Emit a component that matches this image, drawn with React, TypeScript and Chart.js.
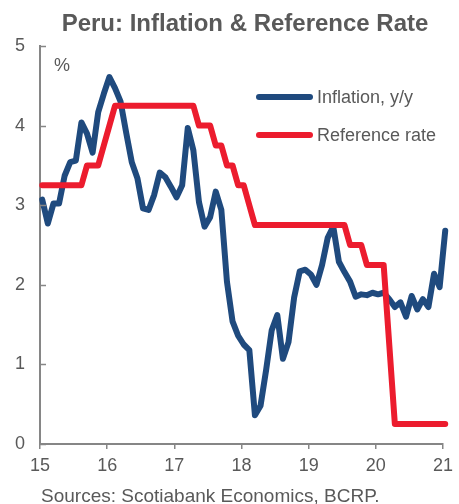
import React, { useEffect, useRef } from 'react';
import { Chart, registerables } from 'chart.js';

Chart.register(...registerables);

const chartTitle = 'Peru: Inflation & Reference Rate';
const sourceNote = 'Sources: Scotiabank Economics, BCRP.';
const unitLabel = '%';
const seriesNames = ['Inflation, y/y', 'Reference rate'];
const xTickLabels = ['15', '16', '17', '18', '19', '20', '21'];
const yTicks = [0, 1, 2, 3, 4, 5];
// observations are plotted a little into each month (months since Jan 2015)
const monthPosition = 0.4;

// Monthly, Jan 2015 .. Jan 2021
const inflation = [
  3.07, 2.77, 3.02, 3.02, 3.37, 3.54, 3.56, 4.04, 3.9, 3.66, 4.17, 4.4,
  4.61, 4.47, 4.3, 3.91, 3.54, 3.34, 2.96, 2.94, 3.13, 3.41, 3.35, 3.23,
  3.1, 3.25, 3.97, 3.69, 3.04, 2.73, 2.85, 3.17, 2.94, 2.04, 1.54, 1.36,
  1.25, 1.18, 0.36, 0.48, 0.93, 1.43, 1.62, 1.07, 1.28, 1.84, 2.17, 2.19,
  2.13, 2.0, 2.25, 2.59, 2.73, 2.29, 2.16, 2.04, 1.85, 1.88, 1.87, 1.9,
  1.88, 1.9, 1.82, 1.72, 1.78, 1.6, 1.86, 1.69, 1.82, 1.72, 2.14, 1.97,
  2.68,
];

const referenceRate = [
  3.25, 3.25, 3.25, 3.25, 3.25, 3.25, 3.25, 3.25, 3.5, 3.5, 3.5, 3.75,
  4.0, 4.25, 4.25, 4.25, 4.25, 4.25, 4.25, 4.25, 4.25, 4.25, 4.25, 4.25,
  4.25, 4.25, 4.25, 4.25, 4.0, 4.0, 4.0, 3.75, 3.75, 3.5, 3.5, 3.25,
  3.25, 3.0, 2.75, 2.75, 2.75, 2.75, 2.75, 2.75, 2.75, 2.75, 2.75, 2.75,
  2.75, 2.75, 2.75, 2.75, 2.75, 2.75, 2.75, 2.5, 2.5, 2.5, 2.25, 2.25,
  2.25, 2.25, 1.25, 0.25, 0.25, 0.25, 0.25, 0.25, 0.25, 0.25, 0.25, 0.25,
  0.25,
];

const BLUE = '#1F4A7E';
const RED = '#EC1C2E';
const TEXT = '#595959';
const AXIS = '#868686';
const FONT = '"Liberation Sans", Arial, sans-serif';

const overlayPlugin = {
  id: 'overlay',
  afterDraw(chart: any) {
    const { ctx, chartArea, scales } = chart;
    const ys = scales.y;
    ctx.save();
    // inward y-axis tick marks
    ctx.strokeStyle = AXIS;
    ctx.lineWidth = 1.5;
    yTicks.forEach((v) => {
      const py = Math.round(ys.getPixelForValue(v)) + 0.5;
      ctx.beginPath();
      ctx.moveTo(chartArea.left, py);
      ctx.lineTo(chartArea.left + 6, py);
      ctx.stroke();
    });

    // title
    ctx.fillStyle = TEXT;
    ctx.textBaseline = 'alphabetic';
    ctx.textAlign = 'center';
    ctx.font = `bold 24px ${FONT}`;
    ctx.fillText(chartTitle, 245, 31);

    // unit label
    ctx.textAlign = 'left';
    ctx.font = `18px ${FONT}`;
    ctx.fillText(unitLabel, 54, 71);

    // legend
    const legendItems = [
      { name: seriesNames[0], color: BLUE, y: 97 },
      { name: seriesNames[1], color: RED, y: 135 },
    ];
    legendItems.forEach((it) => {
      ctx.strokeStyle = it.color;
      ctx.lineWidth = 6;
      ctx.lineCap = 'round';
      ctx.beginPath();
      ctx.moveTo(259, it.y);
      ctx.lineTo(310, it.y);
      ctx.stroke();
      ctx.fillStyle = TEXT;
      ctx.font = `18px ${FONT}`;
      ctx.textBaseline = 'middle';
      ctx.fillText(it.name, 317, it.y + 1);
    });

    // source
    ctx.textBaseline = 'alphabetic';
    ctx.font = `19px ${FONT}`;
    ctx.fillText(sourceNote, 41, 502);
    ctx.restore();
  },
};

export default function App() {
  const canvasRef = useRef<HTMLCanvasElement | null>(null);

  useEffect(() => {
    const canvas = canvasRef.current;
    if (!canvas) return;
    const chart = new Chart(canvas, {
      type: 'line',
      data: {
        datasets: [
          {
            label: seriesNames[1],
            data: referenceRate.map((v, i) => ({ x: i + monthPosition, y: v })),
            borderColor: RED,
            backgroundColor: RED,
            borderWidth: 6,
            pointRadius: 0,
            tension: 0,
            borderCapStyle: 'round',
            borderJoinStyle: 'round',
            clip: 8,
            order: 0,
          },
          {
            label: seriesNames[0],
            data: inflation.map((v, i) => ({ x: i + monthPosition, y: v })),
            borderColor: BLUE,
            backgroundColor: BLUE,
            borderWidth: 6,
            pointRadius: 0,
            tension: 0,
            borderCapStyle: 'round',
            borderJoinStyle: 'round',
            clip: 8,
            order: 1,
          },
        ],
      },
      options: {
        animation: false,
        responsive: false,
        devicePixelRatio: 1,
        layout: { padding: { top: 46, right: 12, left: 0, bottom: 0 } },
        plugins: {
          legend: { display: false },
          title: { display: false },
          tooltip: { enabled: false },
        },
        scales: {
          x: {
            type: 'linear',
            min: 0,
            max: (xTickLabels.length - 1) * 12,
            afterFit: (s: any) => {
              s.height = 60;
            },
            ticks: {
              stepSize: 12,
              autoSkip: false,
              maxRotation: 0,
              padding: 6,
              color: TEXT,
              font: { family: FONT, size: 18 },
              callback: (v: any) => {
                const k = Math.round(Number(v) / 12);
                return xTickLabels[k] ?? '';
              },
            },
            grid: {
              display: true,
              drawOnChartArea: false,
              drawTicks: true,
              tickLength: 5,
              color: AXIS,
              lineWidth: 1.5,
            },
            border: { display: true, color: AXIS, width: 2 },
          },
          y: {
            type: 'linear',
            min: yTicks[0],
            max: yTicks[yTicks.length - 1],
            afterFit: (s: any) => {
              s.width = 40;
            },
            ticks: {
              stepSize: 1,
              padding: 15,
              color: TEXT,
              font: { family: FONT, size: 18 },
            },
            grid: {
              display: true,
              drawOnChartArea: false,
              drawTicks: false,
              color: AXIS,
            },
            border: { display: true, color: AXIS, width: 2 },
          },
        },
      },
      plugins: [overlayPlugin],
    } as any);
    return () => chart.destroy();
  }, []);

  return (
    <div
      style={{
        position: 'fixed',
        left: 0,
        top: 0,
        width: 459,
        height: 504,
        background: '#fff',
      }}
    >
      <canvas ref={canvasRef} width={459} height={504} style={{ display: 'block' }} />
    </div>
  );
}
